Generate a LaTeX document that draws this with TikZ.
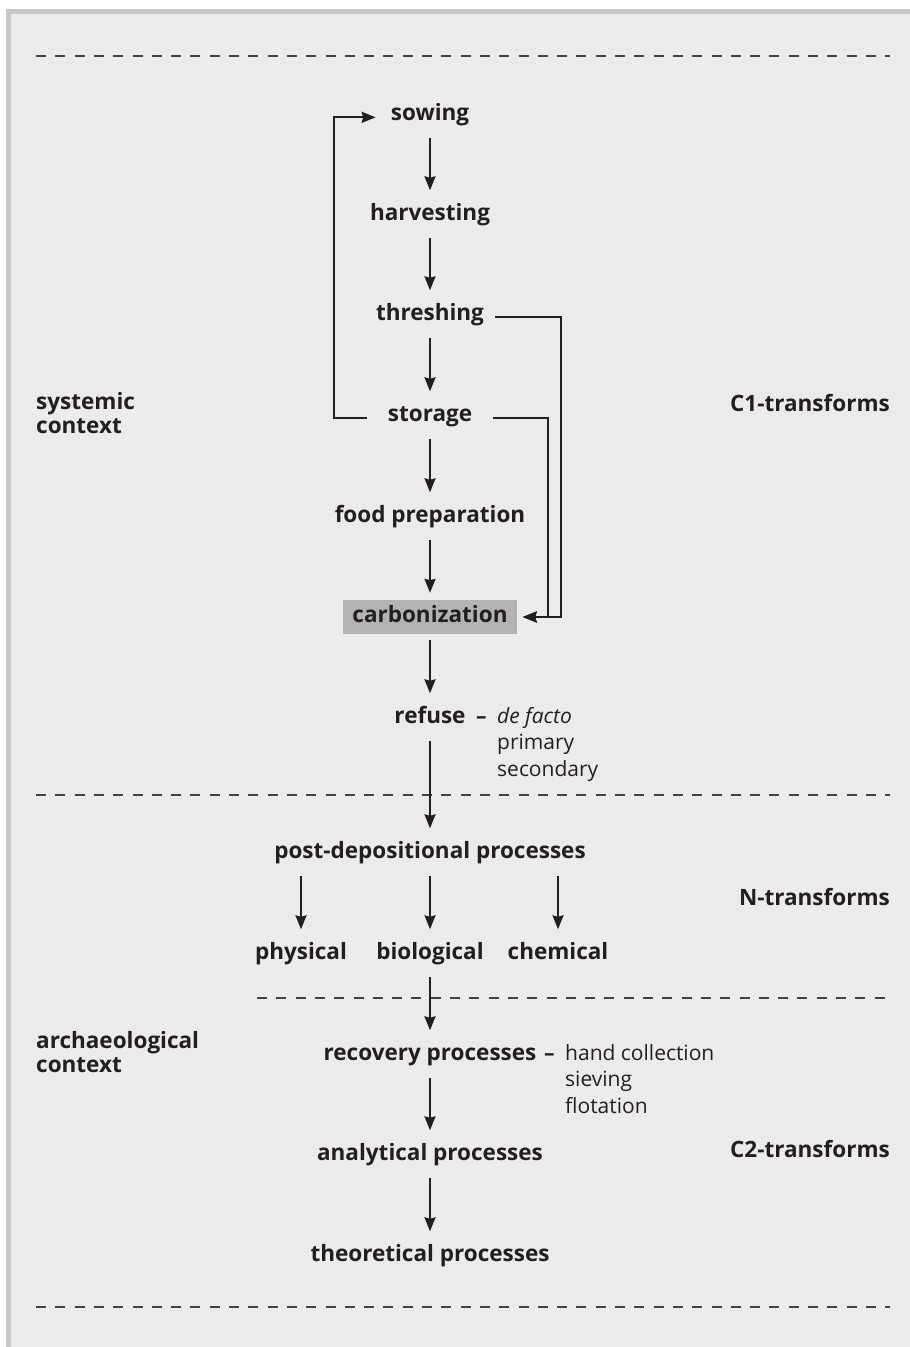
\documentclass[tikz,border=0pt]{standalone}
\usepackage{fontspec}
\setmainfont{Open Sans}
\usetikzlibrary{arrows.meta, calc}
\definecolor{panel}{HTML}{EBEBEB}
\definecolor{rim}{HTML}{C8C8C8}
\definecolor{ink}{HTML}{231F20}
\definecolor{carbon}{HTML}{B3B3B3}
\tikzstyle{arrow} = [ink, line width=2pt, -{Stealth[length=14pt,width=11pt,inset=1.5pt]}, shorten <=12pt, shorten >=13.5pt]
\tikzstyle{feed} = [ink, line width=2pt, -{Stealth[length=14pt,width=11pt,inset=1.5pt]}]
\tikzstyle{divider} = [ink!85, line width=1.3pt, dash pattern=on 10pt off 9.3pt]

\begin{document}
\begin{tikzpicture}[x=1pt, y=-1pt,
    stage/.style={font=\fontsize{22.5}{24}\selectfont\bfseries, text=ink, text height=16pt, text depth=6pt, inner sep=0pt, anchor=base},
    side/.style={font=\fontsize{22.5}{24}\selectfont\bfseries, text=ink, align=left, inner sep=0pt},
    note/.style={font=\fontsize{21}{26.5}\selectfont, text=ink, align=left, inner sep=0pt, anchor=base west}]
        \useasboundingbox (0,0) rectangle (910,1347);
        \fill[white] (0,0) rectangle (910,1347);
        \fill[rim] (6,9) rectangle (910,1347);
        \fill[panel] (11,14) rectangle (910,1347);

        % Dividers
        \draw[divider] (36,56) -- (890,56);
        \draw[divider] (36,795) -- (890,795);
        \draw[divider] (257,998) -- (890,998);
        \draw[divider] (36,1307) -- (890,1307);

        % Stages
        \node[stage] (sowing) at (430,120) {sowing};
        \node[stage] (harvesting) at (430,220) {harvesting};
        \node[stage] (threshing) at (430,320) {threshing};
        \node[stage] (storage) at (430,421) {storage};
        \node[stage] (food) at (430,522) {food preparation};
        \node[stage, fill=carbon, inner xsep=9pt, inner ysep=6pt] (carbon) at (430,622) {carbonization};
        \node[stage] (refuse) at (430,723) {refuse};
        \node[stage] (postdep) at (430,858) {post-depositional processes};
        \node[stage] (physical) at (301,959) {physical};
        \node[stage] (biological) at (430,959) {biological};
        \node[stage] (chemical) at (558,959) {chemical};
        \node[stage] (recovery) at (430,1060) {recovery processes};
        \node[stage] (analytical) at (430,1160) {analytical processes};
        \node[stage] (theoretical) at (430,1261) {theoretical processes};

        % Notes (base = last line)
        \node[note, font=\fontsize{21}{26.5}\selectfont\bfseries] (refdash) at (476,723) {--};
        \node[note] (refkinds) at (497,776) {\textit{de facto}\\primary\\secondary};
        \node[note, font=\fontsize{21}{26.5}\selectfont\bfseries] (recdash) at (544,1060) {--};
        \node[note] (recmethods) at (565,1113) {hand collection\\sieving\\flotation};

        % Side labels
        \node[side, anchor=base west] (systemic) at (36,433) {systemic\\context};
        \node[side, anchor=base west] (archaeo) at (36,1072) {archaeological\\context};
        \node[side, anchor=base east] (ctrans1) at (890,411) {C1-transforms};
        \node[side, anchor=base east] (ntrans) at (890,905) {N-transforms};
        \node[side, anchor=base east] (ctrans2) at (890,1157) {C2-transforms};

        % Main sequence
        \draw[arrow] (sowing.south) -- (harvesting.north);
        \draw[arrow] (harvesting.south) -- (threshing.north);
        \draw[arrow] (threshing.south) -- (storage.north);
        \draw[arrow] (storage.south) -- (food.north);
        \draw[arrow, shorten >=7pt] (food.south) -- (carbon.north);
        \draw[arrow, shorten <=6pt] (carbon.south) -- (refuse.north);
        \draw[arrow] (refuse.south) -- (postdep.north);
        \draw[arrow] (physical |- postdep.south) -- (physical.north);
        \draw[arrow] (biological |- postdep.south) -- (biological.north);
        \draw[arrow] (chemical |- postdep.south) -- (chemical.north);
        \draw[arrow] (biological.south) -- (recovery.north);
        \draw[arrow] (recovery.south) -- (analytical.north);
        \draw[arrow] (analytical.south) -- (theoretical.north);

        % Feedback paths
        \coordinate (feedL) at (334,0);
        \coordinate (feedR) at (561,0);
        \coordinate (feedS) at (548,0);
        \draw[feed, shorten <=21pt, shorten >=15pt] (storage.mid west) -- (storage.mid west -| feedL) |- (sowing.mid west);
        \draw[feed, shorten <=11pt, shorten >=6pt] (threshing.mid east) -- (threshing.mid east -| feedR) |- (carbon.east);
        \draw[feed, shorten <=21pt, shorten >=6pt] (storage.mid east) -- (storage.mid east -| feedS) |- (carbon.east);
      \end{tikzpicture}
\end{document}
